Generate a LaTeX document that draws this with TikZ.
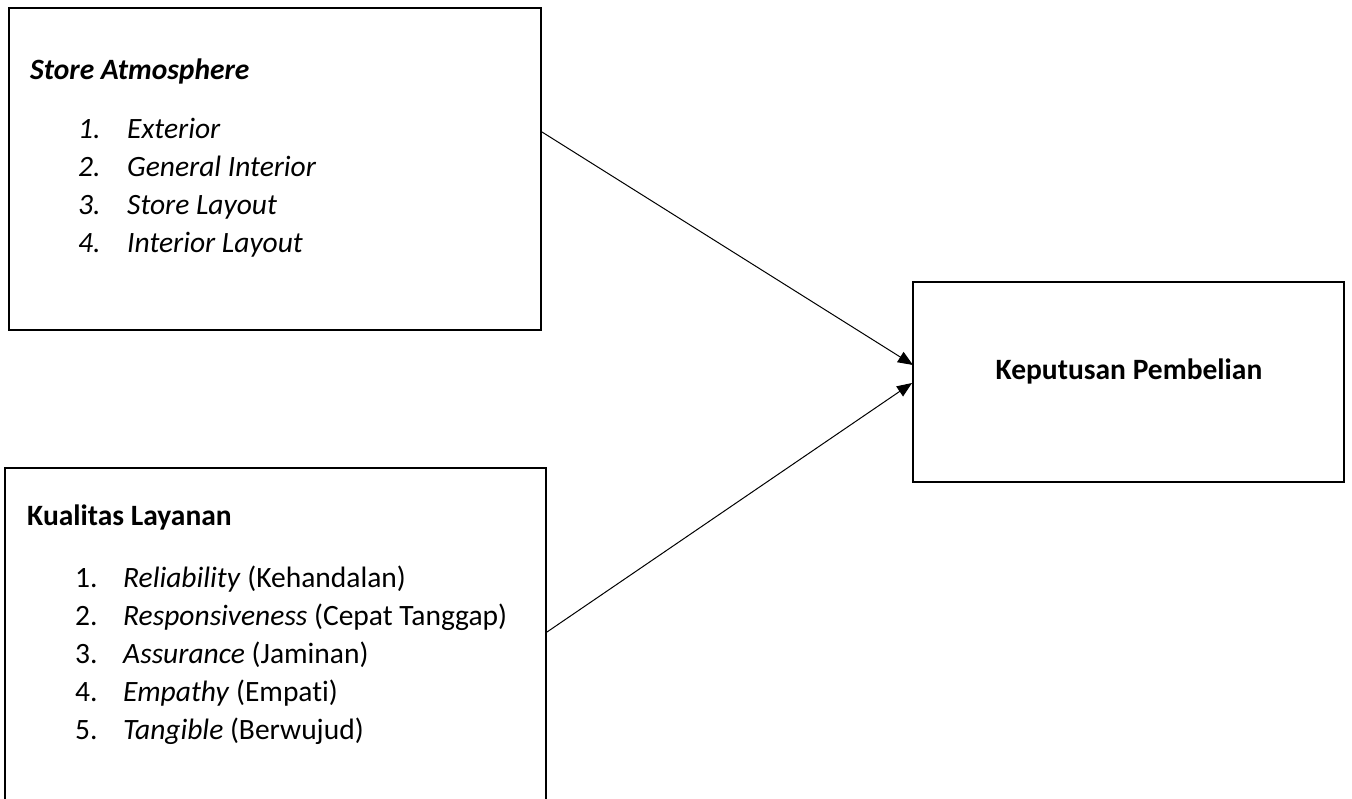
\documentclass[tikz,border=0pt]{standalone}
\usepackage{fontspec}
\setmainfont{Carlito}[RawFeature=-liga]
\usetikzlibrary{arrows.meta}
\begin{document}
\begin{tikzpicture}[x=1pt,y=-1pt,
  box/.style={draw=black,line width=2pt,inner sep=0pt},
  txt/.style={anchor=base west,inner sep=0pt,font=\fontsize{29.5}{35}\selectfont},
  conn/.style={line width=1pt,-{Triangle[length=15pt,width=12pt]}}]
\useasboundingbox (0,0) rectangle (1352,799);
% boxes
\node[box,minimum width=532pt,minimum height=322pt] (b1) at (275,169) {};
\node[box,minimum width=541pt,minimum height=345pt] (b2) at (275.5,640.5) {};
\node[box,minimum width=431pt,minimum height=200pt] (b3) at (1128.5,382) {};
% box 1 text
\node[txt] (h1) at (30,80) {\bfseries\itshape Store Atmosphere};
\node[txt] (n11) at (78,139) {\itshape 1.};
\node[txt] (i11) at (127,139) {\itshape Exterior};
\node[txt] (n12) at (78,177) {\itshape 2.};
\node[txt] (i12) at (127,177) {\itshape General Interior};
\node[txt] (n13) at (78,215) {\itshape 3.};
\node[txt] (i13) at (127,215) {\itshape Store Layout};
\node[txt] (n14) at (78,253) {\itshape 4.};
\node[txt] (i14) at (127,253) {\itshape Interior Layout};
% box 2 text
\node[txt] (h2) at (27,525) {\bfseries Kualitas Layanan};
\node[txt] (n21) at (75,587) {1.};
\node[txt] (i21) at (123,587) {\textit{Reliability} (Kehandalan)};
\node[txt] (n22) at (75,625) {2.};
\node[txt] (i22) at (123,625) {\textit{Responsiveness} (Cepat Tanggap)};
\node[txt] (n23) at (75,663) {3.};
\node[txt] (i23) at (123,663) {\textit{Assurance} (Jaminan)};
\node[txt] (n24) at (75,701) {4.};
\node[txt] (i24) at (123,701) {\textit{Empathy} (Empati)};
\node[txt] (n25) at (75,739) {5.};
\node[txt] (i25) at (123,739) {\textit{Tangible} (Berwujud)};
% box 3 text
\node[font=\fontsize{29.5}{35}\selectfont\bfseries,anchor=base,inner sep=0pt] (t3) at (1129,380) {Keputusan Pembelian};
% connectors
\coordinate (s1) at (542,132);
\coordinate (e1) at (913,365);
\coordinate (s2) at (547,632);
\coordinate (e2) at (912,383);
\draw[conn] (s1) -- (e1);
\draw[conn] (s2) -- (e2);
\end{tikzpicture}
\end{document}
